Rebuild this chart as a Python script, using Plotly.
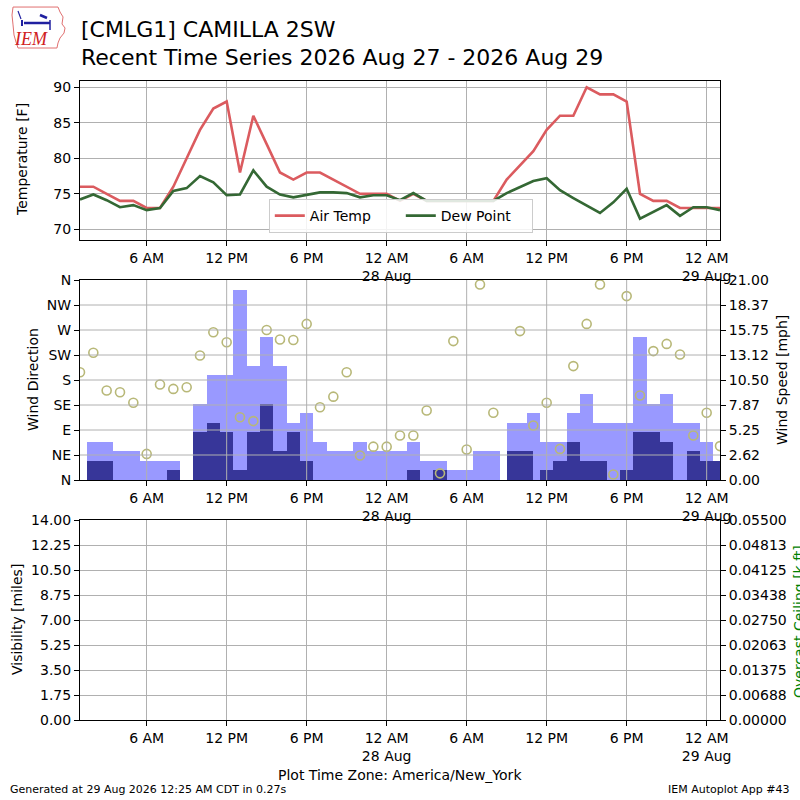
import pandas as pd
import plotly.graph_objects as go

# ---------------- data ----------------
times = pd.date_range("2026-08-27 01:00", "2026-08-29 01:00", freq="h")

air_temp = [76, 76, 75, 74, 74, 73, 73, 76, 80, 84, 87, 88, 78, 86, 82, 78, 77, 78, 78, 77, 76, 75, 75,
            75, 74, 75, 74, 74, 74, 74, 74, 74, 77, 79, 81, 84, 86, 86, 90, 89, 89, 88, 75, 74, 74, 73, 73,
            73, 73]
dew_point = [74.2, 74.9, 74.1, 73.1, 73.4, 72.7, 73.0, 75.4, 75.8, 77.5, 76.6, 74.8, 74.9, 78.3, 76.0, 74.9,
             74.5, 74.8, 75.2, 75.2, 75.1, 74.5, 74.8,
             74.8, 74.1, 75.1, 74.0, 74.0, 74.0, 74.0, 74.0, 74.0, 75.1, 75.9, 76.8, 77.2, 75.5, 74.4, 73.3,
             72.3, 73.8, 75.7, 71.5, 72.5, 73.4, 71.9, 73.1,
             73.1, 72.7]
wind_dir = [194, 229, 161, 158, 139, 47, 172, 164, 167, 224, 266, 248, 113, 106, 270, 253, 252, 281, 131,
            150, 194, 44, 60,
            60, 80, 80, 125, 12, 250, 55, 352, 121, None, 268, 98, 139, 56, 205, 281, 352, 10, 331, 152, 232,
            245, 226, 80,
            121, 61]

# wind bars (two observations on 28 Aug came in at half past the hour)
bar_time_changes = {"2026-08-28 09:00": "2026-08-28 09:30", "2026-08-28 10:00": "2026-08-28 10:30"}
bar_times = [pd.Timestamp(bar_time_changes.get(t.strftime("%Y-%m-%d %H:%M"), t)) for t in times]
wind_gust = [0, 4, 4, 3, 3, 2, 2, 2, 0, 8, 11, 11, 20, 12, 15, 12, 6, 7, 4, 3, 3, 4, 3,
             3, 3, 4, 2, 2, 1, 1, 3, 3, 6, 6, 7, 4, 4, 7, 9, 6, 6, 6, 15, 8, 9, 6, 6,
             4, 2]
wind_speed = [0, 2, 2, 0, 0, 0, 0, 1, 0, 5, 6, 5, 1, 5, 8, 3, 5, 2, 0, 0, 0, 0, 0,
              0, 0, 1, 0, 1, 0, 0, 0, 0, 3, 3, 0, 1, 2, 4, 2, 2, 0, 1, 5, 5, 4, 0, 3,
              2, 2]

tick_times = pd.date_range("2026-08-27 06:00", periods=8, freq="6h")
tick_text = ["6 AM", "12 PM", "6 PM", "12 AM<br>28 Aug", "6 AM", "12 PM", "6 PM", "12 AM<br>29 Aug"]

temp_ticks = [70, 75, 80, 85, 90]
dir_ticks = [0, 45, 90, 135, 180, 225, 270, 315, 360]
dir_labels = ["N", "NE", "E", "SE", "S", "SW", "W", "NW", "N"]
speed_ticks = [0, 2.625, 5.25, 7.875, 10.5, 13.125, 15.75, 18.375, 21.0]
speed_labels = ["0.00", "2.62", "5.25", "7.87", "10.50", "13.12", "15.75", "18.37", "21.00"]
vis_ticks = [0, 1.75, 3.5, 5.25, 7.0, 8.75, 10.5, 12.25, 14.0]
ceil_ticks = [0, 0.006875, 0.01375, 0.020625, 0.0275, 0.034375, 0.04125, 0.048125, 0.055]
ceil_labels = ["0.00000", "0.00688", "0.01375", "0.02063", "0.02750", "0.03438", "0.04125", "0.04813", "0.05500"]

x_start, x_end = "2026-08-27 01:00", "2026-08-29 01:00"

# ---------------- figure ----------------
FONT = "DejaVu Sans"
GRID = "#b0b0b0"


def px(x):
    return x / 800.0


def py(y):
    return 1 - y / 800.0


fig = go.Figure()

fig.add_trace(go.Scatter(x=times, y=air_temp, mode="lines", name="Air Temp",
                         line=dict(color="#db5b5f", width=2.6), xaxis="x", yaxis="y"))
fig.add_trace(go.Scatter(x=times, y=dew_point, mode="lines", name="Dew Point",
                         line=dict(color="#346834", width=2.6), xaxis="x", yaxis="y"))

fig.add_trace(go.Bar(x=bar_times, y=wind_gust, width=3600000, marker=dict(color="#9999ff", line=dict(width=0)),
                     name="Wind Gust", showlegend=False, xaxis="x2", yaxis="y2"))
fig.add_trace(go.Bar(x=bar_times, y=wind_speed, width=3600000, marker=dict(color="#373699", line=dict(width=0)),
                     name="Wind Speed", showlegend=False, xaxis="x2", yaxis="y2"))
fig.add_trace(go.Scatter(x=times, y=wind_dir, mode="markers", name="Wind Direction", showlegend=False,
                         marker=dict(symbol="circle-open", size=9, color="#b8b878", line=dict(width=1.6)),
                         xaxis="x2", yaxis="y3"))

fig.add_trace(go.Scatter(x=[], y=[], showlegend=False, xaxis="x3", yaxis="y4"))
fig.add_trace(go.Scatter(x=[], y=[], showlegend=False, xaxis="x3", yaxis="y5"))

axis_common = dict(showline=True, linecolor="black", linewidth=1, ticks="outside", ticklen=5, tickwidth=1,
                   tickcolor="black", zeroline=False, automargin=False,
                   tickfont=dict(family=FONT, size=14, color="black"))
xcommon = dict(axis_common, type="date", range=[x_start, x_end], tickvals=tick_times, ticktext=tick_text,
               domain=[0.1, 0.9], mirror=True, gridcolor=GRID, gridwidth=1)

fig.update_layout(
    width=800, height=800, margin=dict(l=0, r=0, t=0, b=0, pad=0, autoexpand=False),
    paper_bgcolor="white", plot_bgcolor="white",
    font=dict(family=FONT, size=14, color="black"),
    barmode="overlay", bargap=0,
    xaxis=dict(xcommon, anchor="y", showgrid=True),
    yaxis=dict(axis_common, domain=[py(240), py(80.7)], range=[68.49, 90.93], tickvals=temp_ticks,
               mirror=True, showgrid=True, gridcolor=GRID, gridwidth=1, anchor="x"),
    xaxis2=dict(xcommon, anchor="y2", showgrid=False),
    yaxis2=dict(axis_common, domain=[py(480), py(280)], range=[0, 21], tickvals=speed_ticks,
                ticktext=speed_labels, side="right", showgrid=False, anchor="x2"),
    yaxis3=dict(axis_common, range=[0, 360], tickvals=dir_ticks, ticktext=dir_labels, side="left",
                overlaying="y2", showgrid=False, anchor="x2"),
    xaxis3=dict(xcommon, anchor="y4", showgrid=True),
    yaxis4=dict(axis_common, domain=[py(720), py(520)], range=[0, 14], tickvals=vis_ticks,
                tickformat=".2f", side="left", showgrid=True, gridcolor=GRID, gridwidth=1, anchor="x3"),
    yaxis5=dict(axis_common, range=[0, 0.055], tickvals=ceil_ticks, ticktext=ceil_labels, side="right",
                overlaying="y4", showgrid=False, anchor="x3"),
    legend=dict(orientation="h", x=0.501, xanchor="center", y=py(233), yanchor="bottom",
                bgcolor="rgba(255,255,255,0.85)", bordercolor="#cccccc", borderwidth=1,
                entrywidth=86, entrywidthmode="pixels",
                font=dict(family=FONT, size=14)),
)

# grid for the wind panel drawn above the bars
shapes = []
for d in dir_ticks[1:-1]:
    shapes.append(dict(type="line", xref="paper", yref="y3", x0=0.1, x1=0.9, y0=d, y1=d,
                       line=dict(color=GRID, width=1), layer="above"))
for t in tick_times:
    shapes.append(dict(type="line", xref="x2", yref="paper", x0=t, x1=t, y0=py(480), y1=py(280),
                       line=dict(color=GRID, width=1), layer="above"))

# IEM logo (decorative)
outline = [(13, 7), (58, 7), (60, 12), (63, 17), (62, 24), (65, 28), (64, 33), (60, 38), (58, 43),
           (57, 48), (18, 48), (16, 42), (14, 35), (13, 25), (12, 15)]
path = "M " + " L ".join(f"{px(a):.4f},{py(b):.4f}" for a, b in outline) + " Z"
shapes.append(dict(type="path", xref="paper", yref="paper", path=path, line=dict(color="#e07070", width=1)))
logo_lines = [((24, 23), (50, 23), 2.5), ((18, 11), (21, 19), 1.2), ((40, 15), (47, 18), 2.5),
              ((50, 20), (50, 30), 1.5), ((22, 20), (22, 26), 2.0)]
for (a, b), (c, d), w in logo_lines:
    shapes.append(dict(type="line", xref="paper", yref="paper", x0=px(a), y0=py(b), x1=px(c), y1=py(d),
                       line=dict(color="#2020a0", width=w)))
fig.update_layout(shapes=shapes)

ann = []
ann.append(dict(text="<i>IEM</i>", x=px(31), y=py(39), xref="paper", yref="paper", showarrow=False,
                font=dict(family="Liberation Serif", size=18, color="#d02020"), xanchor="center",
                yanchor="middle"))
ann.append(dict(text="[CMLG1] CAMILLA 2SW", x=px(79), y=py(30), xref="paper", yref="paper",
                showarrow=False, xanchor="left", yanchor="middle", font=dict(family=FONT, size=22)))
ann.append(dict(text="Recent Time Series 2026 Aug 27 - 2026 Aug 29", x=px(79), y=py(57), xref="paper",
                yref="paper", showarrow=False, xanchor="left", yanchor="middle", font=dict(family=FONT, size=22)))
ann.append(dict(text="Temperature [F]", x=px(22), y=py(160), xref="paper", yref="paper", showarrow=False,
                textangle=-90, xanchor="center", yanchor="middle", font=dict(family=FONT, size=14)))
ann.append(dict(text="Wind Direction", x=px(33), y=py(380), xref="paper", yref="paper", showarrow=False,
                textangle=-90, xanchor="center", yanchor="middle", font=dict(family=FONT, size=14)))
ann.append(dict(text="Wind Speed [mph]", x=px(782), y=py(380), xref="paper", yref="paper", showarrow=False,
                textangle=-90, xanchor="center", yanchor="middle", font=dict(family=FONT, size=14)))
ann.append(dict(text="Visibility [miles]", x=px(17), y=py(620), xref="paper", yref="paper", showarrow=False,
                textangle=-90, xanchor="center", yanchor="middle", font=dict(family=FONT, size=14)))
ann.append(dict(text="Overcast Ceiling [k ft]", x=px(789), y=py(622), xref="paper", yref="paper",
                showarrow=False, textangle=-90, xanchor="left", yanchor="middle",
                font=dict(family=FONT, size=14, color="green")))
ann.append(dict(text="Plot Time Zone: America/New_York", x=px(400), y=py(775), xref="paper", yref="paper",
                showarrow=False, xanchor="center", yanchor="middle", font=dict(family=FONT, size=14)))
ann.append(dict(text="Generated at 29 Aug 2026 12:25 AM CDT in 0.27s", x=px(8), y=py(789), xref="paper",
                yref="paper", showarrow=False, xanchor="left", yanchor="middle", font=dict(family=FONT, size=11)))
ann.append(dict(text="IEM Autoplot App #43", x=px(792), y=py(789), xref="paper", yref="paper",
                showarrow=False, xanchor="right", yanchor="middle", font=dict(family=FONT, size=11)))
fig.update_layout(annotations=ann)

fig.write_html("out.html", config={"displayModeBar": False},
               post_script="document.body.style.margin='0px';")
